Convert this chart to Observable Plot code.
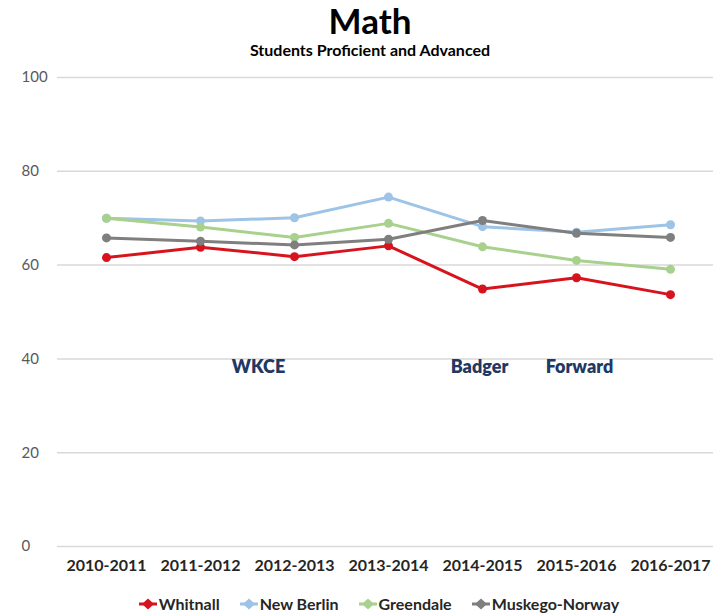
<!DOCTYPE html>
<html>
<head>
<meta charset="utf-8">
<script src="https://cdn.jsdelivr.net/npm/d3@7"></script>
<script src="https://cdn.jsdelivr.net/npm/@observablehq/plot@0.6"></script>
<style>
  html, body { margin: 0; padding: 0; background: #fff; }
  #wrap { position: relative; width: 713px; height: 616px; overflow: hidden; font-family: Lato, "Liberation Sans", sans-serif; }
  #title { position: absolute; left: 27px; width: 686px; top: 1px; text-align: center; font-weight: 700; font-size: 35px; line-height: 38px; color: #000; }
  #subtitle { position: absolute; left: 27px; width: 686px; top: 40px; text-align: center; font-weight: 700; font-size: 16px; line-height: 20px; color: #000; }
  #chart { position: absolute; left: 0; top: 60px; }
  #legend { position: absolute; left: 0; width: 713px; top: 594px; display: flex; justify-content: center; padding-left: 45px; box-sizing: border-box; gap: 20px; font-weight: 700; font-size: 16px; line-height: 20px; color: #262626; }
  .item { display: flex; align-items: center; gap: 2px; }
</style>
</head>
<body>
<div id="wrap">
  <div id="title">Math</div>
  <div id="subtitle">Students Proficient and Advanced</div>
  <div id="chart"></div>
  <div id="legend"></div>
</div>
<script>
const years = ["2010-2011", "2011-2012", "2012-2013", "2013-2014", "2014-2015", "2015-2016", "2016-2017"];
const schools = ["Whitnall", "New Berlin", "Greendale", "Muskego-Norway"];
const colors = ["#d7141e", "#9dc3e6", "#a9d18e", "#7f7f7f"];
const whitnall = [61.6, 63.8, 61.8, 64.1, 54.9, 57.3, 53.7];
const newBerlin = [70.0, 69.4, 70.1, 74.5, 68.2, 67.0, 68.6];
const greendale = [70.0, 68.1, 65.9, 68.9, 63.9, 61.0, 59.1];
const muskego = [65.8, 65.1, 64.3, 65.5, 69.5, 66.8, 65.9];
const yTicks = [0, 20, 40, 60, 80, 100];
const noteLabels = ["WKCE", "Badger", "Forward"];
const noteYears = ["2012-2013", "2014-2015", "2015-2016"];
const noteShift = [-36, -3, 3];
const noteLevel = 40;

const series = [whitnall, newBerlin, greendale, muskego];
const data = [];
schools.forEach((s, i) => years.forEach((y, j) => data.push({school: s, year: y, value: series[i][j]})));

const noteMarks = noteLabels.map((t, i) =>
  Plot.text([{label: t, year: noteYears[i]}], {x: "year", y: () => noteLevel, text: "label", dx: noteShift[i], lineAnchor: "top", dy: 1, fontSize: 18, fontWeight: 800, fill: "#1f3864"})
);

const chart = Plot.plot({
  width: 713,
  height: 530,
  marginTop: 17,
  marginBottom: 44,
  marginLeft: 57,
  marginRight: 0,
  style: {fontFamily: "Lato, 'Liberation Sans', sans-serif", background: "transparent"},
  x: {type: "point", domain: years, range: [103, 672], padding: 0},
  y: {domain: [0, 100], label: null},
  color: {domain: schools, range: colors},
  marks: [
    Plot.ruleY(yTicks, {stroke: "#d9d9d9", strokeWidth: 1.5}),
    Plot.axisY({ticks: yTicks, tickSize: 0, tickPadding: 36, textAnchor: "start", fontSize: 15, fill: "#595959", label: null}),
    Plot.axisX({tickSize: 0, tickPadding: 13, fontSize: 16, fontWeight: 700, fill: "#262626", label: null}),
    Plot.line(data, {x: "year", y: "value", z: "school", stroke: "school", strokeWidth: 3}),
    Plot.dot(data, {x: "year", y: "value", fill: "school", r: 4.5}),
    ...noteMarks
  ]
});
document.getElementById("chart").append(chart);

const legend = document.getElementById("legend");
schools.forEach((s, i) => {
  const it = document.createElement("div");
  it.className = "item";
  it.innerHTML = `<svg width="18" height="12" viewBox="0 0 18 12"><line x1="0" y1="6" x2="18" y2="6" stroke="${colors[i]}" stroke-width="3"/><path d="M9 0.5 L15 6 L9 11.5 L3 6 Z" fill="${colors[i]}"/></svg><span>${s}</span>`;
  legend.append(it);
});
</script>
</body>
</html>
